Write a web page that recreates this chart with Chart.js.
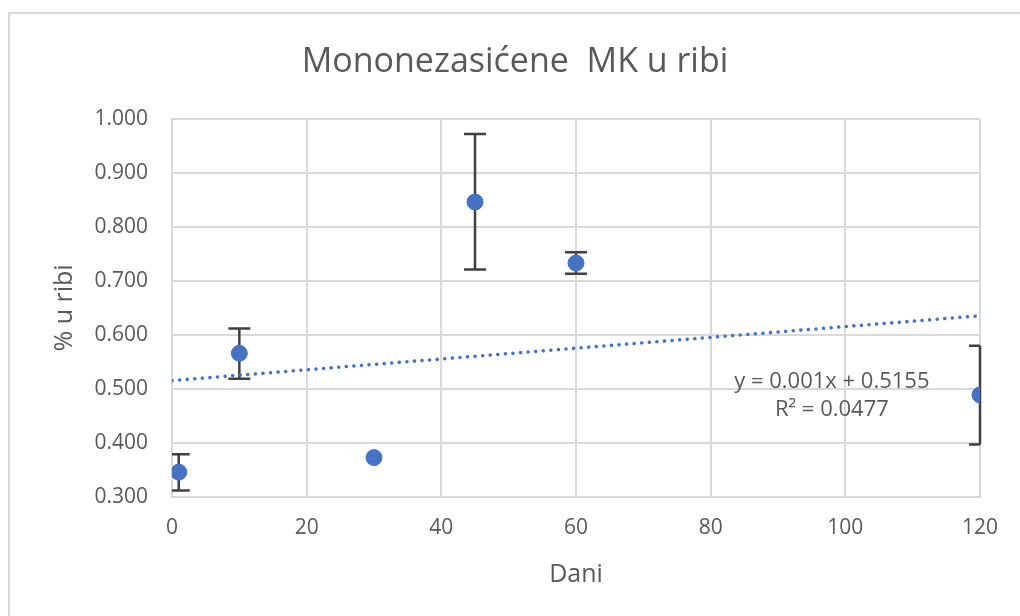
<!DOCTYPE html>
<html>
<head>
<meta charset="utf-8">
<script src="https://cdn.jsdelivr.net/npm/chart.js@4.4.1/dist/chart.umd.min.js"></script>
<style>
  html, body { margin: 0; padding: 0; background: #fff; }
  #wrap { position: absolute; left: 0; top: 0; width: 1020px; height: 616px; }
  #frame { position: absolute; left: 8px; top: 12px; width: 1100px; height: 700px;
           border-top: 2px solid #d9d9d9; border-left: 2px solid #d9d9d9; }
  canvas { position: absolute; left: 0; top: 0; }
</style>
</head>
<body>
<div id="wrap">
  <div id="frame"></div>
  <canvas id="fishChart" width="1020" height="616"></canvas>
</div>
<script>
// Mononezasicene MK u ribi
const days = [1, 10, 30, 45, 60, 120];
const percent = [0.346, 0.566, 0.373, 0.846, 0.733, 0.489];
const errTop = [0.379, 0.612, 0.373, 0.972, 0.753, 0.580];
const errBottom = [0.312, 0.519, 0.373, 0.721, 0.713, 0.397];

// trendline from the equation shown on the chart
const trendSlope = 0.001;
const trendIntercept = 0.5155;
const trendX = [0, 120];
const trendLabel = ["y = 0.001x + 0.5155", "R\u00b2 = 0.0477"];

const xTicks = [0, 20, 40, 60, 80, 100, 120];
const yTicks = [0.3, 0.4, 0.5, 0.6, 0.7, 0.8, 0.9, 1.0];

const font = "'Open Sans', 'Noto Sans', sans-serif";
const grey = '#595959';

// error bars + equation text
const errorBars = {
  id: 'errorBars',
  beforeDatasetsDraw(chart) {
    const ctx = chart.ctx;
    const xs = chart.scales.x, ys = chart.scales.y;
    ctx.save();
    ctx.strokeStyle = '#404040';
    ctx.lineWidth = 2.5;
    days.forEach((d, i) => {
      if (errTop[i] === errBottom[i]) return;
      const px = xs.getPixelForValue(d);
      const top = ys.getPixelForValue(errTop[i]);
      const bot = ys.getPixelForValue(errBottom[i]);
      ctx.beginPath();
      ctx.moveTo(px, top); ctx.lineTo(px, bot);
      // caps (clipped at the plot edge like the original)
      const l = Math.max(px - 11, chart.chartArea.left);
      const r = Math.min(px + 11, chart.chartArea.right);
      ctx.moveTo(l, top); ctx.lineTo(r, top);
      ctx.moveTo(l, bot); ctx.lineTo(r, bot);
      ctx.stroke();
    });
    ctx.restore();
  },
  afterDatasetsDraw(chart) {
    const ctx = chart.ctx;
    const xs = chart.scales.x, ys = chart.scales.y;
    ctx.save();
    ctx.fillStyle = grey;
    ctx.font = "22px " + font;
    ctx.textAlign = 'center';
    ctx.textBaseline = 'middle';
    ctx.fillText(trendLabel[0], xs.getPixelForValue(98), ys.getPixelForValue(0.513));
    ctx.fillText(trendLabel[1], xs.getPixelForValue(98), ys.getPixelForValue(0.462));
    ctx.restore();
  }
};

function fishChart() {
  const ctx = document.getElementById("fishChart").getContext('2d');
  const chart = new Chart(ctx, {
    type: 'scatter',
    data: {
      datasets: [
        {
          label: 'Mononezasićene MK',
          data: days.map((d, i) => ({ x: d, y: percent[i] })),
          backgroundColor: '#4472C4',
          borderColor: '#4472C4',
          pointRadius: 8,
          pointHoverRadius: 8,
          order: 1
        },
        {
          label: 'Trend',
          type: 'line',
          data: trendX.map(x => ({ x: x, y: trendSlope * x + trendIntercept })),
          borderColor: '#4472C4',
          borderWidth: 3.5,
          borderDash: [0.1, 7.5],
          borderCapStyle: 'round',
          pointRadius: 0,
          fill: false,
          order: 2
        }
      ]
    },
    options: {
      responsive: false,
      animation: false,
      layout: { padding: { top: 42, left: 50, right: 40, bottom: 26 } },
      plugins: {
        legend: { display: false },
        tooltip: { enabled: false },
        title: {
          display: true,
          text: 'Mononezasićene  MK u ribi',
          color: grey,
          font: { family: font, size: 34, weight: 'normal' },
          padding: { top: 0, bottom: 36 }
        }
      },
      scales: {
        x: {
          type: 'linear',
          min: 0, max: 120,
          afterBuildTicks: s => { s.ticks = xTicks.map(v => ({ value: v })); },
          afterFit: s => { s.height = 93; },
          ticks: { color: grey, font: { family: font, size: 21 }, padding: 18 },
          grid: { color: '#d9d9d9', lineWidth: 2, drawTicks: false },
          border: { color: '#d9d9d9', width: 2 },
          title: { display: true, text: 'Dani', color: grey,
                   font: { family: font, size: 25 }, padding: 0 }
        },
        y: {
          min: 0.3, max: 1.0,
          afterBuildTicks: s => { s.ticks = yTicks.map(v => ({ value: v })); },
          afterFit: s => { s.width = 122; },
          ticks: { color: grey, font: { family: font, size: 21 }, padding: 24,
                   callback: v => Number(v).toFixed(3) },
          grid: { color: '#d9d9d9', lineWidth: 2, drawTicks: false },
          border: { color: '#d9d9d9', width: 2 },
          title: { display: true, text: '% u ribi', color: grey,
                   font: { family: font, size: 25 }, padding: 0 }
        }
      }
    },
    plugins: [errorBars]
  });
}
fishChart()
</script>
</body>
</html>
